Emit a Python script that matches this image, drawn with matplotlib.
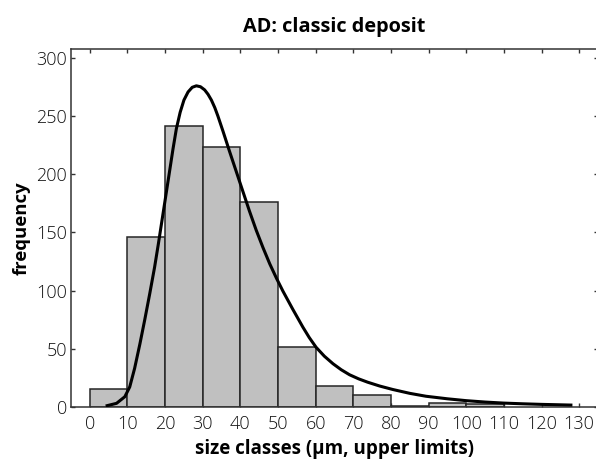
import matplotlib
matplotlib.use("Agg")
import matplotlib.pyplot as plt

# histogram: lower class limits and counts
bin_left = [0, 10, 20, 30, 40, 50, 60, 70, 80, 90, 100]
counts = [15, 146, 242, 224, 176, 51, 18, 10, 1, 3, 2]

# fitted distribution curve
curve_x = [4.6, 7.1, 9.3, 10.6, 11.9, 13.3, 14.6, 15.9, 17.2, 18.2, 19.2, 20.2,
           21.2, 22.1, 23.0, 24.0, 25.0, 26.1, 27.2, 28.3, 29.4, 30.5, 31.4,
           32.3, 33.2, 34.0, 35.4, 37.1, 38.9, 40.7, 42.4, 44.2, 46.0, 47.8,
           49.6, 51.3, 53.9, 56.6, 58.3, 60.1, 62.3, 64.6, 66.8, 69.0, 71.4,
           73.8, 77.0, 80.5, 85.0, 89.3, 95.0, 100.0, 105.0, 110.0, 115.0,
           120.0, 124.0, 127.8]
curve_y = [0.9, 2.9, 8.6, 17, 33, 54, 75, 97, 120, 140, 161, 182,
           203, 222, 239.5, 253.5, 264, 271, 275, 276.3, 275.5, 272.8, 269,
           264, 257.5, 250.5, 237, 220, 202.5, 185, 168.5, 152, 137, 123,
           110.5, 99.5, 84, 68.5, 59.5, 51.2, 43.5, 37, 31.8, 27.5, 24,
           21.1, 17.8, 14.8, 11.5, 9, 6.8, 5.2, 4.0, 3.1, 2.5,
           2.0, 1.7, 1.4]

xticks = list(range(0, 131, 10))
yticks = list(range(0, 301, 50))

plt.rcParams['font.family'] = ['Open Sans', 'DejaVu Sans']

fig = plt.figure(figsize=(5.96, 4.61), dpi=100)
ax = fig.add_axes([71 / 596, 54.3 / 461, 527 / 596, 357.7 / 461])

ax.bar(bin_left, counts, width=10, align='edge', color='#c0c0c0',
       edgecolor='#262626', linewidth=1.1, zorder=1)
ax.plot(curve_x, curve_y, color='black', linewidth=2.2, zorder=3,
        solid_joinstyle='round')

ax.set_xlim(-5, 135)
ax.set_ylim(0, 308)
ax.set_xticks(xticks)
ax.set_yticks(yticks)
ax.set_axisbelow(True)

ax.tick_params(axis='both', direction='in', length=3.2, width=1.0,
               color='#333333', labelsize=13, labelcolor='#111111')
ax.tick_params(axis='x', top=True, pad=6)
ax.tick_params(axis='y', right=True, pad=3)
for lbl in ax.get_xticklabels() + ax.get_yticklabels():
    lbl.set_fontweight('light')

for side in ['left', 'bottom', 'top']:
    ax.spines[side].set_color('#333333')
    ax.spines[side].set_linewidth(1.1)
ax.spines['right'].set_visible(False)

ax.set_title('AD: classic deposit', fontsize=14.3, fontweight='bold', pad=12)
ax.set_xlabel('size classes (µm, upper limits)', fontsize=13.5,
              fontweight='bold', labelpad=4.5)
ax.set_ylabel('frequency', fontsize=13.3, fontweight='bold', labelpad=4)

plt.savefig('out.png', dpi=100)
